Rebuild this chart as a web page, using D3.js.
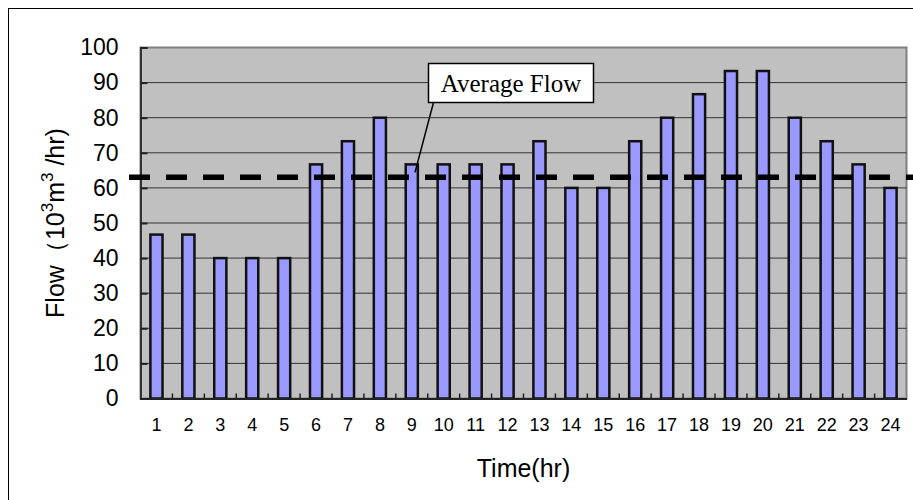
<!DOCTYPE html>
<html>
<head>
<meta charset="utf-8">
<script src="https://cdn.jsdelivr.net/npm/d3@7"></script>
<style>
  html, body { margin: 0; padding: 0; background: #fff; }
  svg { display: block; }
</style>
</head>
<body>
<svg id="chart"></svg>
<script>
// data
const hours = ["1","2","3","4","5","6","7","8","9","10","11","12","13","14","15","16","17","18","19","20","21","22","23","24"];
const flow = [46.7, 46.7, 40, 40, 40, 66.7, 73.3, 80, 66.7, 66.7, 66.7, 66.7, 73.3, 60, 60, 73.3, 80, 86.7, 93.3, 93.3, 80, 73.3, 66.7, 60];
const averageFlow = 63;
const yTicks = [0, 10, 20, 30, 40, 50, 60, 70, 80, 90, 100];
const calloutText = "Average Flow";

const W = 913, H = 500;
const plot = { left: 140.5, right: 906.5, top: 47.5, bottom: 398.5 };

const svg = d3.select("#chart").attr("width", W).attr("height", H);

// outer chart border (runs off the right and bottom edge)
svg.append("rect")
  .attr("x", 8.5).attr("y", 8.5)
  .attr("width", 1000).attr("height", 600)
  .attr("fill", "#fff")
  .attr("stroke", "#000").attr("stroke-width", 1);

const x = d3.scaleBand()
  .domain(hours)
  .range([plot.left, plot.right])
  .padding(0);

const y = d3.scaleLinear()
  .domain([0, 100])
  .range([plot.bottom, plot.top]);

// plot background
svg.append("rect")
  .attr("x", plot.left).attr("y", plot.top)
  .attr("width", plot.right - plot.left)
  .attr("height", plot.bottom - plot.top)
  .attr("fill", "#c0c0c0")
  .attr("stroke", "#808080").attr("stroke-width", 2);

// gridlines
svg.append("g")
  .selectAll("line")
  .data(yTicks.filter(d => d > 0 && d < 100))
  .enter().append("line")
  .attr("x1", plot.left).attr("x2", plot.right)
  .attr("y1", d => y(d)).attr("y2", d => y(d))
  .attr("stroke", "#333").attr("stroke-width", 1);

// Y axis
const yAxis = svg.append("g")
  .attr("transform", `translate(${plot.left},0)`)
  .call(d3.axisLeft(y).tickValues(yTicks).tickSize(-7).tickPadding(22));
yAxis.select(".domain").attr("stroke", "#333").attr("stroke-width", 2);
yAxis.selectAll(".tick line").attr("stroke", "#222").attr("stroke-width", 2);
yAxis.selectAll("text")
  .attr("font-family", "'Liberation Sans', Arial, sans-serif")
  .attr("font-size", 23).attr("fill", "#000");

// bars
const barW = x.bandwidth() * 0.38;
svg.append("g")
  .selectAll("rect")
  .data(flow)
  .enter().append("rect")
  .attr("x", (d, i) => x(hours[i]) + x.bandwidth() / 2 - barW / 2)
  .attr("y", d => y(d))
  .attr("width", barW)
  .attr("height", d => y(0) - y(d))
  .attr("fill", "#9999ff")
  .attr("stroke", "#111").attr("stroke-width", 2.5);

// X axis: ticks between categories, pointing into the plot
svg.append("g")
  .selectAll("line")
  .data(hours.slice(1))
  .enter().append("line")
  .attr("x1", d => x(d)).attr("x2", d => x(d))
  .attr("y1", plot.bottom).attr("y2", plot.bottom - 5)
  .attr("stroke", "#222").attr("stroke-width", 1.5);

const xAxis = svg.append("g")
  .attr("transform", `translate(0,${plot.bottom})`)
  .call(d3.axisBottom(x).tickSize(0).tickPadding(20));
xAxis.select(".domain").attr("stroke", "#222").attr("stroke-width", 2);
xAxis.selectAll("text")
  .attr("font-family", "'Liberation Sans', Arial, sans-serif")
  .attr("font-size", 18).attr("fill", "#000");

// average flow dashed line
svg.append("line")
  .attr("x1", 129).attr("x2", W + 10)
  .attr("y1", y(averageFlow)).attr("y2", y(averageFlow))
  .attr("stroke", "#000").attr("stroke-width", 5.5)
  .attr("stroke-dasharray", "21,16");

// callout
const box = { x: 428.5, y: 63.5, w: 165, h: 39 };
svg.append("line")
  .attr("x1", box.x + 5).attr("y1", box.y + box.h)
  .attr("x2", 415).attr("y2", y(averageFlow) - 5)
  .attr("stroke", "#000").attr("stroke-width", 1.5);
svg.append("rect")
  .attr("x", box.x).attr("y", box.y)
  .attr("width", box.w).attr("height", box.h)
  .attr("fill", "#fff").attr("stroke", "#000").attr("stroke-width", 1.5);
svg.append("text")
  .attr("x", box.x + box.w / 2).attr("y", box.y + 28)
  .attr("text-anchor", "middle")
  .attr("font-family", "'Liberation Serif', 'Times New Roman', serif")
  .attr("font-size", 25)
  .text(calloutText);

// axis titles
svg.append("text")
  .attr("x", (plot.left + plot.right) / 2).attr("y", 477)
  .attr("text-anchor", "middle")
  .attr("font-family", "'Liberation Sans', Arial, sans-serif")
  .attr("font-size", 25)
  .text("Time(hr)");

const yTitle = svg.append("text")
  .attr("transform", `translate(64,${(plot.top + plot.bottom) / 2}) rotate(-90)`)
  .attr("text-anchor", "middle")
  .attr("font-family", "'Liberation Sans', Arial, sans-serif")
  .attr("font-size", 25);
yTitle.append("tspan").text("Flow（10");
yTitle.append("tspan").attr("dy", -11).attr("font-size", 17).text("3");
yTitle.append("tspan").attr("dy", 11).text("m");
yTitle.append("tspan").attr("dy", -11).attr("font-size", 17).text("3");
yTitle.append("tspan").attr("dy", 11).text(" /hr)");
</script>
</body>
</html>
